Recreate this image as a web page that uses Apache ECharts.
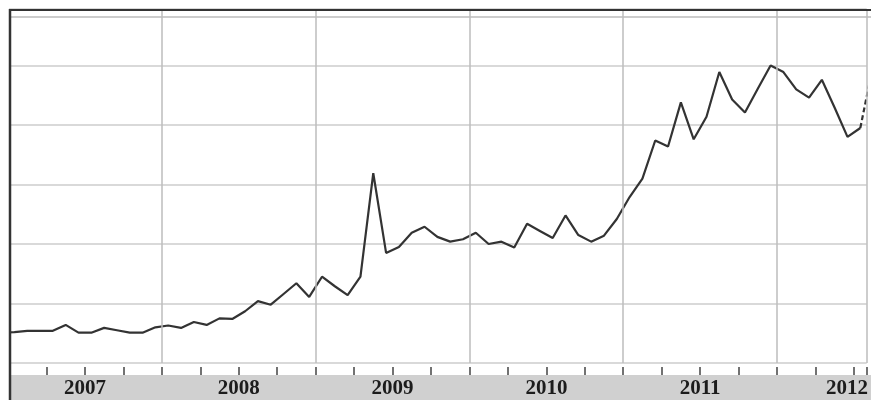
<!DOCTYPE html>
<html>
<head>
<meta charset="utf-8">
<script src="https://cdn.jsdelivr.net/npm/echarts@6/dist/echarts.min.js"></script>
<style>
html,body{margin:0;padding:0;background:#ffffff;}
#c{width:871px;height:400px;}
</style>
</head>
<body>
<div id="c"></div>
<script>
// ---- data ----
const months = [
  '2006-12',
  '2007-01','2007-02','2007-03','2007-04','2007-05','2007-06','2007-07','2007-08','2007-09','2007-10','2007-11','2007-12',
  '2008-01','2008-02','2008-03','2008-04','2008-05','2008-06','2008-07','2008-08','2008-09','2008-10','2008-11','2008-12',
  '2009-01','2009-02','2009-03','2009-04','2009-05','2009-06','2009-07','2009-08','2009-09','2009-10','2009-11','2009-12',
  '2010-01','2010-02','2010-03','2010-04','2010-05','2010-06','2010-07','2010-08','2010-09','2010-10','2010-11','2010-12',
  '2011-01','2011-02','2011-03','2011-04','2011-05','2011-06','2011-07','2011-08','2011-09','2011-10','2011-11','2011-12',
  '2012-01','2012-02','2012-03','2012-04','2012-05','2012-06','2012-07'
];
const values = [
  51,
  52, 54, 54, 54, 64, 51, 51, 59, 55, 51, 51, 60,
  63, 59, 69, 64, 75, 74, 87, 104, 98, 116, 134, 111,
  145, 129, 114, 145, 319, 185, 195, 219, 229, 212, 204, 208,
  219, 200, 204, 194, 234, 222, 210, 248, 215, 204, 214, 242,
  279, 310, 374, 364, 438, 376, 414, 489, 443, 421, 461, 500,
  489, 460, 446, 476, 429, 380, 395
];
const forecastMonths = ['2012-07', '2012-08'];
const forecastValues = [395, 501];
const yearLabels = ['2007', '2008', '2009', '2010', '2011', '2012'];

// month string -> months since Jan 2007 (mid-month)
function toX(m) {
  const p = m.split('-');
  return (Number(p[0]) - 2007) * 12 + (Number(p[1]) - 1) + 0.5;
}
const solidData = months.map((m, i) => [toX(m), values[i]]);
const dashedData = forecastMonths.map((m, i) => [toX(m), forecastValues[i]]);

const labelFont = {
  fontFamily: '"Liberation Serif", "DejaVu Serif", serif',
  fontWeight: 'bold',
  fontSize: 21,
  color: '#1c1c1c',
  align: 'center'
};

const chart = echarts.init(document.getElementById('c'), null, { renderer: 'canvas' });
const option = {
  animation: false,
  backgroundColor: '#ffffff',
  grid: { left: 8, right: 1, top: 9, bottom: 37 },
  xAxis: [
    {
      type: 'value', min: 0, max: 67, interval: 12,
      position: 'bottom', offset: 12, z: 10,
      axisLine: { show: false },
      axisTick: { show: false },
      splitLine: { show: true, lineStyle: { color: '#bdbdbd', width: 1.5 } },
      axisLabel: {
        show: true, margin: 3, align: 'left',
        formatter: function (v) {
          if (v % 12 !== 0) return '';
          const k = v / 12;
          if (k >= yearLabels.length) return '';
          return (k === yearLabels.length - 1 ? '{e|' : '{y|') + yearLabels[k] + '}';
        },
        rich: {
          y: Object.assign({ width: 154 }, labelFont),
          e: Object.assign({ width: 140 }, labelFont)
        }
      }
    },
    {
      type: 'value', min: 0, max: 67, interval: 3,
      position: 'bottom', offset: 12, z: 10,
      axisLine: { show: false },
      axisTick: { show: true, inside: true, length: 8, lineStyle: { color: '#444444', width: 1.5 } },
      axisLabel: { show: false },
      splitLine: { show: false }
    }
  ],
  yAxis: {
    type: 'value', min: 0, max: 595, interval: 100,
    axisLine: { show: false },
    axisTick: { show: false },
    axisLabel: { show: false },
    splitLine: { show: true, lineStyle: { color: '#d9d9d9', width: 2 } }
  },
  series: [
    {
      type: 'line', data: solidData, xAxisIndex: 0, symbol: 'none', clip: true,
      lineStyle: { color: '#333333', width: 2.2 }, z: 5
    },
    {
      type: 'line', data: dashedData, xAxisIndex: 0, symbol: 'none', clip: true,
      lineStyle: { color: '#333333', width: 2.2, type: [5, 3] }, z: 5
    }
  ],
  graphic: [
    { type: 'rect', z: 0, silent: true, shape: { x: 11, y: 375, width: 860, height: 25 }, style: { fill: '#d0d0d0' } },
    { type: 'line', z: 1, silent: true, shape: { x1: 11, y1: 17, x2: 871, y2: 17 }, style: { stroke: '#cccccc', lineWidth: 2 } },
    { type: 'rect', z: 99, silent: true, shape: { x: 0, y: 0, width: 9, height: 400 }, style: { fill: '#ffffff' } },
    { type: 'line', z: 100, silent: true, shape: { x1: 9, y1: 10, x2: 871, y2: 10 }, style: { stroke: '#333333', lineWidth: 2 } },
    { type: 'line', z: 100, silent: true, shape: { x1: 10, y1: 9, x2: 10, y2: 400 }, style: { stroke: '#333333', lineWidth: 2.5 } }
  ]
};
chart.setOption(option);
</script>
</body>
</html>
